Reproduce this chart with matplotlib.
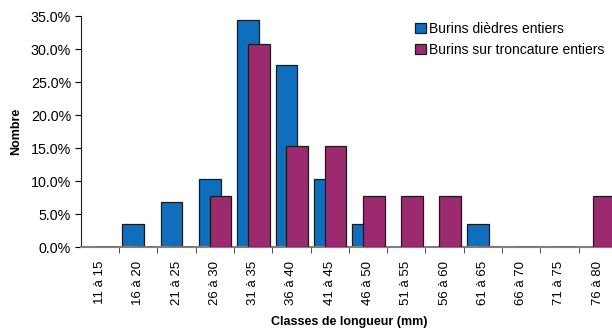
import numpy as np
import matplotlib
matplotlib.use('Agg')
from matplotlib import pyplot as plt
from matplotlib.ticker import PercentFormatter

classes = ['11 à 15', '16 à 20', '21 à 25', '26 à 30', '31 à 35', '36 à 40', '41 à 45',
           '46 à 50', '51 à 55', '56 à 60', '61 à 65', '66 à 70', '71 à 75', '76 à 80']
# percentages
dieedres = [0.0, 3.45, 6.9, 10.34, 34.48, 27.59, 10.34, 3.45, 0.0, 0.0, 3.45, 0.0, 0.0, 0.0]
troncature = [0.0, 0.0, 0.0, 7.69, 30.77, 15.38, 15.38, 7.69, 7.69, 7.69, 0.0, 0.0, 0.0, 7.69]
serie_names = ['Burins dièdres entiers', 'Burins sur troncature entiers']

plt.rcParams['font.family'] = ['Liberation Sans', 'DejaVu Sans']

fig = plt.figure(figsize=(6.12, 3.29), dpi=100)
ax = fig.add_axes([0.132, 0.249, 0.876, 0.702])

x = np.arange(len(classes))
w = 0.57
ax.bar(x - 0.13, dieedres, w, color='#0F6FBE', edgecolor='#1a1a1a', linewidth=0.9,
       label=serie_names[0], zorder=2)
ax.bar(x + 0.15, troncature, w, color='#9C2A6E', edgecolor='#1a1a1a', linewidth=0.9,
       label=serie_names[1], zorder=3)

ax.set_xlim(-0.5, len(classes) - 0.5)
ax.set_ylim(0, 35)
ax.set_yticks(np.arange(0, 36, 5))
ax.yaxis.set_major_formatter(PercentFormatter(decimals=1))
ax.tick_params(axis='y', labelsize=10.3, length=4, direction='out', pad=3)

ax.set_xticks(x)
ax.set_xticklabels(classes, rotation=90, fontsize=9.5)
ax.set_xticks(np.arange(len(classes)) + 0.5, minor=True)
ax.tick_params(axis='x', which='major', length=0, pad=10)
ax.tick_params(axis='x', which='minor', length=4, color='#333333')

for s in ['top', 'right']:
    ax.spines[s].set_visible(False)
ax.spines['bottom'].set_color('#808080')
ax.spines['bottom'].set_linewidth(1.5)
ax.spines['left'].set_color('#222222')

ax.set_ylabel('Nombre', fontsize=9, fontweight='bold', labelpad=6)
ax.set_xlabel('Classes de longueur (mm)', fontsize=9, fontweight='bold', labelpad=8)

ax.legend(loc='upper left', bbox_to_anchor=(0.613, 1.0), frameon=False, fontsize=10,
          handlelength=0.78, handleheight=0.78, handletextpad=0.2, labelspacing=0.5,
          borderaxespad=0.)

fig.savefig('out.png', dpi=100)
